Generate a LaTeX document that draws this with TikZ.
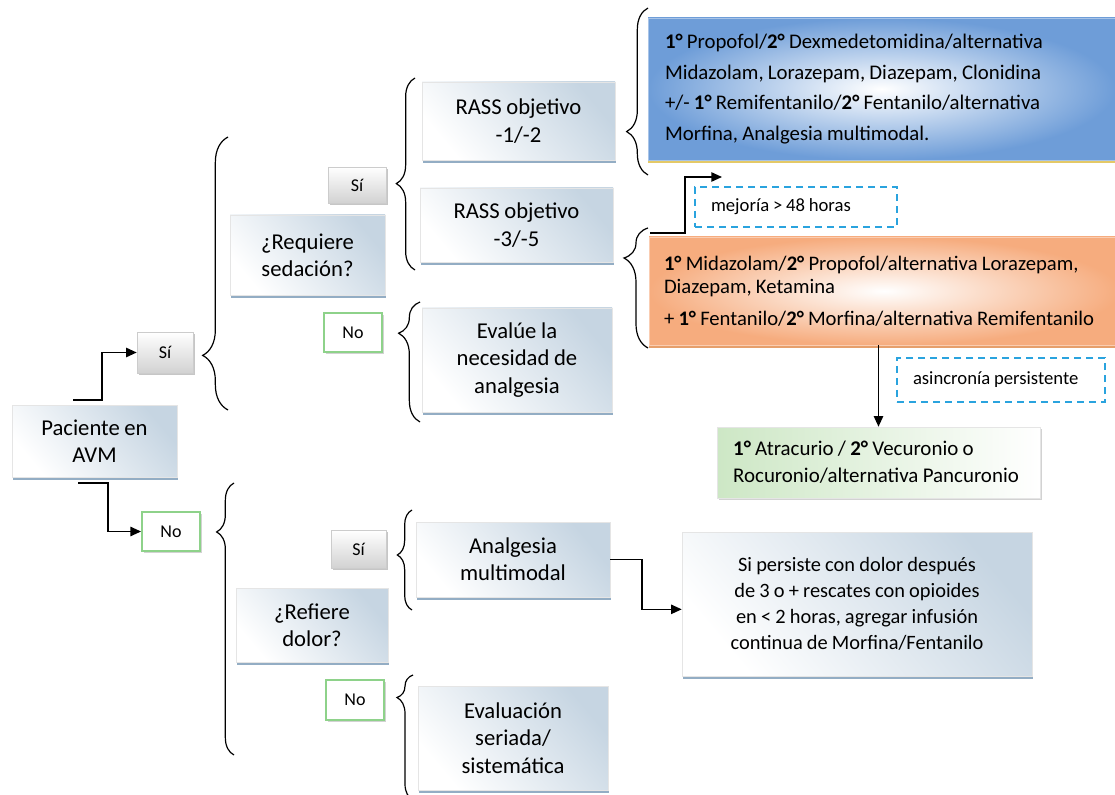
\documentclass[tikz,border=0pt]{standalone}
\usepackage{fontspec}
\setmainfont{Carlito}[WordSpace=0.9]
\usetikzlibrary{arrows.meta,shadows,decorations.pathreplacing}

\definecolor{cajatop}{HTML}{C6D5E2}
\definecolor{cajasombra}{HTML}{93ADC4}
\definecolor{grisclaro}{HTML}{D2D2D2}
\definecolor{verdeno}{HTML}{8ED28A}
\definecolor{azuldash}{HTML}{2AA3DE}
\definecolor{azulfuerte}{HTML}{6E9DD8}
\definecolor{naranja}{HTML}{F6AC7E}
\definecolor{verdeclaro}{HTML}{CDE7C5}

\tikzset{
  wh/.style 2 args={minimum width=#1*0.75pt, minimum height=#2*0.75pt, inner sep=0pt},
  caja/.style={draw=white!80!gray, top color=cajatop, bottom color=white, shading angle=-50,
    drop shadow={shadow xshift=1pt, shadow yshift=-2pt, fill=cajasombra, opacity=1},
    align=center, font=\fontsize{17}{20.5}\selectfont},
  si/.style={draw=gray!40, top color=white, bottom color=grisclaro,
    drop shadow={shadow xshift=1.5pt, shadow yshift=-1.5pt, fill=gray!45, opacity=1},
    font=\fontsize{13.5}{15}\selectfont},
  no/.style={draw=verdeno, line width=1.4pt, fill=white,
    drop shadow={shadow xshift=1.5pt, shadow yshift=-1.5pt, fill=gray!35, opacity=1},
    font=\fontsize{13.5}{15}\selectfont},
  nota/.style={draw=azuldash, line width=1.2pt, dash pattern=on 5pt off 4pt, fill=white,
    align=flush left, inner xsep=12pt, font=\fontsize{14}{16}\selectfont},
  llave/.style 2 args={decorate, decoration={brace, amplitude=#1, aspect=#2}, line width=0.9pt},
  flecha/.style={line width=1.2pt, -{Triangle[length=8pt,width=7pt]}}
}

\begin{document}
\begin{tikzpicture}[x=0.75pt, y=-0.75pt]
\useasboundingbox (0,0) rectangle (1115,795);

% primer nivel
\node[caja, wh={165}{72}] (pac) at (94.5,441) {Paciente en\\AVM};
\node[si, wh={56}{41}] (si1) at (165,352.5) {Sí};
\node[no, wh={58}{39}] (no1) at (171,531.5) {No};

% sedacion
\node[caja, wh={155}{80}] (req) at (307.5,255) {¿Requiere\\sedación?};
\node[si, wh={58}{36}] (sised) at (357,185) {Sí};
\node[no, wh={58}{39}] (nosed) at (353,332.5) {No};
\node[caja, wh={193}{78}] (rass1) at (518.5,121) {RASS objetivo\\-1/-2};
\node[caja, wh={193}{74}] (rass2) at (516.5,225) {RASS objetivo\\-3/-5};
\node[caja, wh={190}{104}] (evalue) at (517,360) {Evalúe la\\necesidad de\\analgesia};

% esquemas
\node[draw=azulfuerte!60, inner color=white, outer color=azulfuerte, wh={467}{142},
  drop shadow={shadow xshift=0pt, shadow yshift=-2.5pt, fill=brown!60!yellow!70, opacity=1},
  text width=324.75pt, inner xsep=12.75pt, align=flush left, font=\fontsize{15.6}{23}\selectfont]
  (esqazul) at (881.5,89)
  {\textbf{1°} Propofol/\textbf{2°} Dexmedetomidina/alternativa\\
   Midazolam, Lorazepam, Diazepam, Clonidina\\
   +/- \textbf{1°} Remifentanilo/\textbf{2°} Fentanilo/alternativa\\
   Morfina, Analgesia multimodal.};
\node[nota, wh={202}{40}, text width=127.5pt] (mejoria) at (796,207) {mejoría > 48 horas};
\node[draw=naranja!60, inner color=white, outer color=naranja, wh={470}{108},
  drop shadow={shadow xshift=0pt, shadow yshift=-2.5pt, fill=naranja!70!brown, opacity=1},
  text width=330pt, inner xsep=11.25pt, align=flush left, font=\fontsize{15.5}{17.5}\selectfont]
  (esqnaranja) at (884,291)
  {\textbf{1°} Midazolam/\textbf{2°} Propofol/alternativa Lorazepam,\\
   Diazepam, Ketamina\\[6.5pt]
   + \textbf{1°} Fentanilo/\textbf{2°} Morfina/alternativa Remifentanilo};
\node[nota, wh={208}{44}, text width=132pt] (asincronia) at (1001,380) {asincronía persistente};
\node[draw=white!80!gray, left color=verdeclaro, right color=white, wh={323}{71},
  drop shadow={shadow xshift=1.5pt, shadow yshift=-1.5pt, fill=gray!35, opacity=1},
  text width=218pt, inner xsep=12pt, align=flush left, font=\fontsize{15.7}{20}\selectfont]
  (atracurio) at (878.5,462.5)
  {\textbf{1°} Atracurio / \textbf{2°} Vecuronio o\\Rocuronio/alternativa Pancuronio};

% dolor
\node[caja, wh={152}{74}] (ref) at (312,625) {¿Refiere\\dolor?};
\node[si, wh={55}{38}] (sidol) at (358.5,549) {Sí};
\node[no, wh={58}{40}] (nodol) at (355,700) {No};
\node[caja, wh={194}{75}] (analg) at (513,559.5) {Analgesia\\multimodal};
\node[caja, wh={190}{104}] (evals) at (513,738) {Evaluación\\seriada/\\sistemática};
\node[caja, wh={350}{144}, font=\fontsize{15.3}{19.5}\selectfont] (persiste) at (857,604)
  {Si persiste con dolor después\\de 3 o + rescates con opioides\\en < 2 horas, agregar infusión\\continua de Morfina/Fentanilo};

% llaves
\draw[llave={19pt}{0.2}] (228,410) -- (228,137);
\draw[llave={13pt}{0.82}] (234,755) -- (234,483);
\draw[llave={14pt}{0.45}] (415,270) -- (415,78);
\draw[llave={16pt}{0.74}] (420,422) -- (420,302);
\draw[llave={16pt}{0.26}] (648,175) -- (648,8);
\draw[llave={18pt}{0.75}] (648,348) -- (648,228);
\draw[llave={11pt}{0.55}] (412,610) -- (412,510);
\draw[llave={12pt}{0.82}] (413,800) -- (413,675);

% flechas
\coordinate (p1) at (73,400);
\coordinate (p2) at (78,483);
\coordinate (p3) at (650,233);
\coordinate (p4) at (722,177);
\draw[flecha] (p1) -- ++(29,0) |- (si1.west);
\draw[flecha] (p2) -- ++(30,0) |- (no1.west);
\draw[flecha] (p3) -- ++(35,0) |- (p4);
\draw[flecha] (atracurio.north |- esqnaranja.south) -- (atracurio.north);
\draw[flecha] (analg.east) -- ++(32,0) |- ([yshift=-4pt]persiste.west);
\end{tikzpicture}
\end{document}
